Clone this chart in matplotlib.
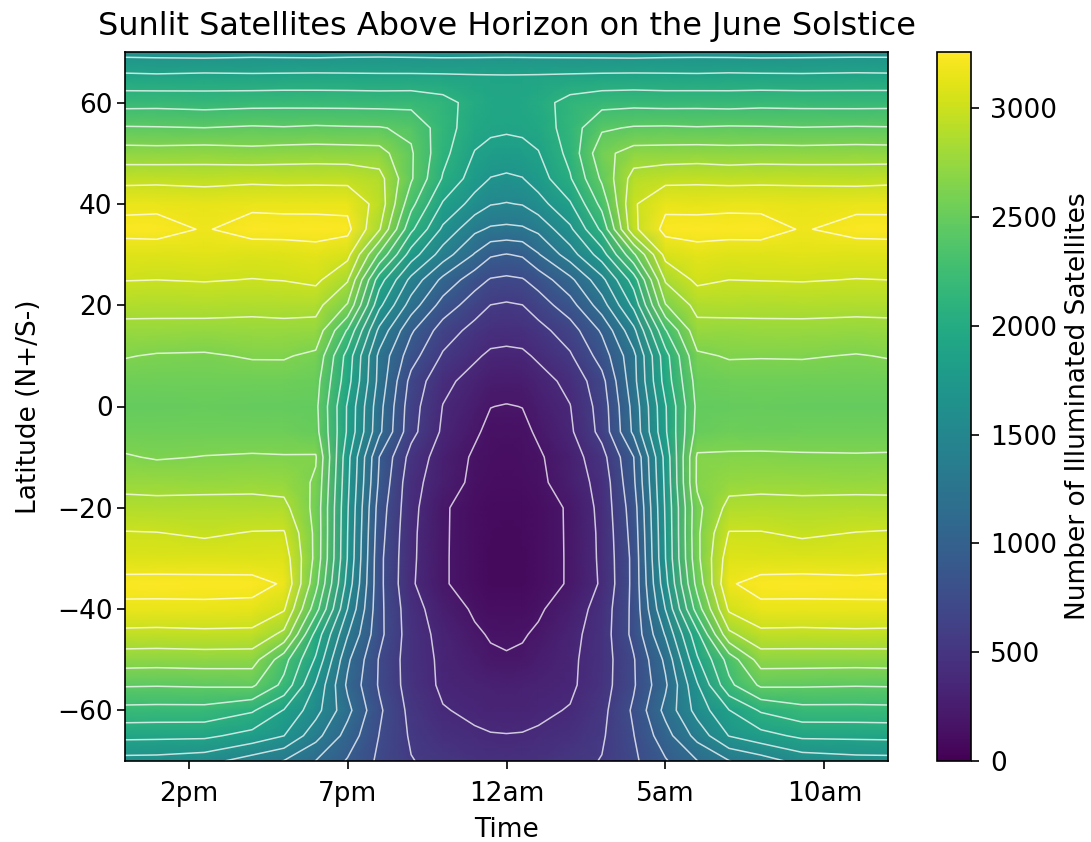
import numpy as np
import matplotlib
matplotlib.use("Agg")
import matplotlib.pyplot as plt

# hours after noon, satellites counted on this time / latitude grid
hours = [0, 1, 2.5, 4, 5, 6, 7, 8, 9, 10, 11, 11.5, 12, 12.5, 13, 14, 15, 16, 17, 18, 19, 20, 21.3, 23, 24]
lats = [70, 65, 60, 55, 50, 45, 40, 35, 30, 25, 20, 15, 10, 5, 0,
        -5, -10, -15, -20, -25, -30, -35, -40, -45, -50, -55, -60, -65, -70]

counts = [
    [1625, 1620, 1610, 1625, 1620, 1615, 1625, 1630, 1625, 1620, 1625, 1628, 1630, 1628, 1625, 1620, 1615, 1610, 1620, 1625, 1620, 1615, 1620, 1625, 1625],
    [1925, 1915, 1930, 1920, 1925, 1930, 1925, 1920, 1920, 1915, 1905, 1902, 1900, 1902, 1905, 1915, 1925, 1930, 1925, 1920, 1930, 1925, 1920, 1930, 1925],
    [2185, 2190, 2175, 2190, 2195, 2190, 2190, 2185, 2190, 2130, 1990, 1945, 1925, 1945, 1990, 2130, 2185, 2195, 2185, 2190, 2180, 2195, 2190, 2185, 2190],
    [2455, 2450, 2440, 2460, 2450, 2465, 2455, 2450, 2400, 2150, 1950, 1912, 1900, 1912, 1950, 2150, 2410, 2455, 2460, 2450, 2460, 2455, 2445, 2455, 2450],
    [2705, 2700, 2715, 2690, 2710, 2715, 2710, 2700, 2460, 2120, 1865, 1815, 1800, 1815, 1865, 2120, 2570, 2700, 2705, 2715, 2700, 2710, 2705, 2715, 2710],
    [2945, 2950, 2935, 2955, 2945, 2950, 2945, 2880, 2460, 2045, 1780, 1680, 1655, 1680, 1780, 2045, 2470, 2890, 2945, 2955, 2940, 2950, 2945, 2935, 2950],
    [3145, 3150, 3135, 3155, 3150, 3145, 3145, 2930, 2310, 1855, 1610, 1510, 1490, 1510, 1610, 1855, 2310, 2980, 3150, 3140, 3155, 3145, 3140, 3150, 3145],
    [3240, 3245, 3175, 3250, 3245, 3250, 3235, 2830, 2105, 1650, 1355, 1285, 1270, 1285, 1355, 1650, 2105, 2960, 3240, 3250, 3245, 3255, 3175, 3240, 3245],
    [3095, 3100, 3110, 3090, 3105, 3125, 3055, 2405, 1785, 1410, 1110, 960, 930, 960, 1110, 1410, 1785, 2405, 3060, 3125, 3105, 3095, 3110, 3095, 3100],
    [3005, 3000, 3010, 2995, 3005, 3040, 2830, 1960, 1445, 1075, 827, 735, 715, 735, 827, 1075, 1445, 1960, 2835, 3040, 3000, 3005, 3010, 2995, 3000],
    [2880, 2870, 2885, 2865, 2875, 2870, 2610, 1735, 1225, 860, 650, 560, 540, 560, 650, 860, 1225, 1735, 2615, 2870, 2880, 2870, 2885, 2870, 2875],
    [2755, 2760, 2745, 2750, 2755, 2745, 2230, 1450, 965, 660, 500, 450, 440, 450, 500, 660, 965, 1450, 2235, 2750, 2745, 2760, 2750, 2745, 2750],
    [2635, 2610, 2605, 2640, 2640, 2590, 1990, 1265, 830, 540, 400, 345, 335, 345, 400, 540, 830, 1265, 1990, 2595, 2640, 2635, 2640, 2615, 2635],
    [2540, 2545, 2535, 2540, 2545, 2510, 1950, 1250, 690, 420, 310, 262, 250, 262, 310, 420, 690, 1250, 1955, 2515, 2540, 2545, 2535, 2540, 2545],
    [2490, 2485, 2495, 2490, 2485, 2480, 1855, 1190, 640, 370, 260, 190, 180, 190, 260, 370, 640, 1190, 1860, 2480, 2490, 2495, 2485, 2490, 2485],
    [2540, 2535, 2545, 2540, 2535, 2500, 1850, 1165, 620, 345, 210, 150, 140, 150, 210, 345, 620, 1165, 1850, 2505, 2540, 2530, 2540, 2545, 2540],
    [2640, 2610, 2630, 2640, 2635, 2640, 1750, 935, 495, 285, 165, 130, 125, 130, 165, 285, 495, 935, 1750, 2650, 2650, 2655, 2645, 2640, 2645],
    [2755, 2750, 2745, 2760, 2740, 2600, 1730, 905, 440, 270, 150, 115, 110, 115, 150, 270, 440, 905, 1730, 2655, 2745, 2755, 2750, 2745, 2750],
    [2880, 2870, 2885, 2875, 2865, 2570, 1705, 850, 430, 205, 125, 95, 90, 95, 125, 205, 430, 850, 1710, 2575, 2870, 2880, 2870, 2885, 2875],
    [3010, 3005, 2975, 3010, 3015, 2580, 1690, 825, 415, 205, 120, 90, 85, 90, 120, 205, 415, 825, 1695, 2590, 3010, 3010, 2975, 3005, 3015],
    [3090, 3085, 3095, 3080, 3100, 2575, 1680, 800, 410, 205, 115, 85, 80, 85, 115, 205, 410, 800, 1685, 2580, 3100, 3085, 3090, 3080, 3095],
    [3245, 3250, 3240, 3245, 3170, 2500, 1620, 800, 400, 205, 115, 85, 80, 85, 115, 205, 400, 800, 1625, 2505, 3170, 3245, 3250, 3240, 3250],
    [3150, 3145, 3155, 3140, 3020, 2330, 1500, 800, 450, 275, 165, 125, 115, 125, 165, 275, 450, 800, 1505, 2340, 3030, 3150, 3145, 3155, 3150],
    [2950, 2945, 2955, 2950, 2765, 2000, 1325, 800, 465, 320, 210, 175, 165, 175, 210, 320, 465, 800, 1330, 2010, 2770, 2950, 2945, 2955, 2950],
    [2710, 2705, 2715, 2710, 2320, 1850, 1160, 735, 470, 340, 260, 212, 200, 212, 260, 340, 470, 735, 1165, 1850, 2325, 2710, 2710, 2705, 2710],
    [2455, 2450, 2460, 2470, 2200, 1670, 1090, 730, 480, 345, 310, 295, 290, 295, 310, 345, 480, 730, 1095, 1670, 2205, 2470, 2460, 2450, 2455],
    [2195, 2190, 2190, 2085, 1865, 1570, 1180, 780, 510, 385, 345, 325, 320, 325, 345, 385, 510, 780, 1180, 1570, 1870, 2085, 2190, 2190, 2195],
    [1925, 1920, 1915, 1810, 1690, 1380, 1050, 745, 540, 450, 395, 383, 380, 383, 395, 450, 540, 745, 1050, 1380, 1695, 1810, 1915, 1920, 1925],
    [1620, 1615, 1570, 1405, 1305, 1120, 920, 715, 570, 510, 470, 453, 450, 453, 470, 510, 570, 715, 920, 1120, 1305, 1405, 1570, 1615, 1620],
]

contour_levels = [187.5, 375, 562.5, 750, 937.5, 1125, 1312.5, 1500, 1687.5, 1875,
                  2062.5, 2250, 2437.5, 2625, 2812.5, 3000, 3187.5]
time_ticks = [2, 7, 12, 17, 22]
time_labels = ["2pm", "7pm", "12am", "5am", "10am"]
lat_ticks = [-60, -40, -20, 0, 20, 40, 60]
bar_ticks = [0, 500, 1000, 1500, 2000, 2500, 3000]

W, H = 1091, 842
plt.rcParams["font.size"] = 19
plt.rcParams["axes.linewidth"] = 1.2

fig = plt.figure(figsize=(W / 100, H / 100), dpi=100)
ax = fig.add_axes([125 / W, 1 - 761 / H, 763 / W, 709 / H])
cax = fig.add_axes([937 / W, 1 - 761 / H, 34 / W, 709 / H])

X, Y = np.meshgrid(hours, lats)
Z = np.array(counts, dtype=float)

mesh = ax.pcolormesh(X, Y, Z, shading="gouraud", cmap="viridis", vmin=0, vmax=3258)
ax.contour(X, Y, Z, levels=contour_levels, colors="white", linewidths=1.1, alpha=0.75)

ax.set_xlim(0, 24)
ax.set_ylim(-70, 70)
ax.set_xticks(time_ticks)
ax.set_xticklabels(time_labels)
ax.set_yticks(lat_ticks)
ax.tick_params(length=5.5, width=1.2)
ax.tick_params(axis="x", pad=9)
ax.set_xlabel("Time", labelpad=7)
ax.set_ylabel("Latitude (N+/S-)", labelpad=11)
ax.set_title("Sunlit Satellites Above Horizon on the June Solstice", fontsize=23, pad=12)

cbar = fig.colorbar(mesh, cax=cax)
cbar.set_ticks(bar_ticks)
cbar.ax.tick_params(length=5.5, width=1.2, pad=8)
cbar.outline.set_linewidth(1.2)
cbar.set_label("Number of Illuminated Satellites", labelpad=6)

fig.savefig("out.png", dpi=100)
